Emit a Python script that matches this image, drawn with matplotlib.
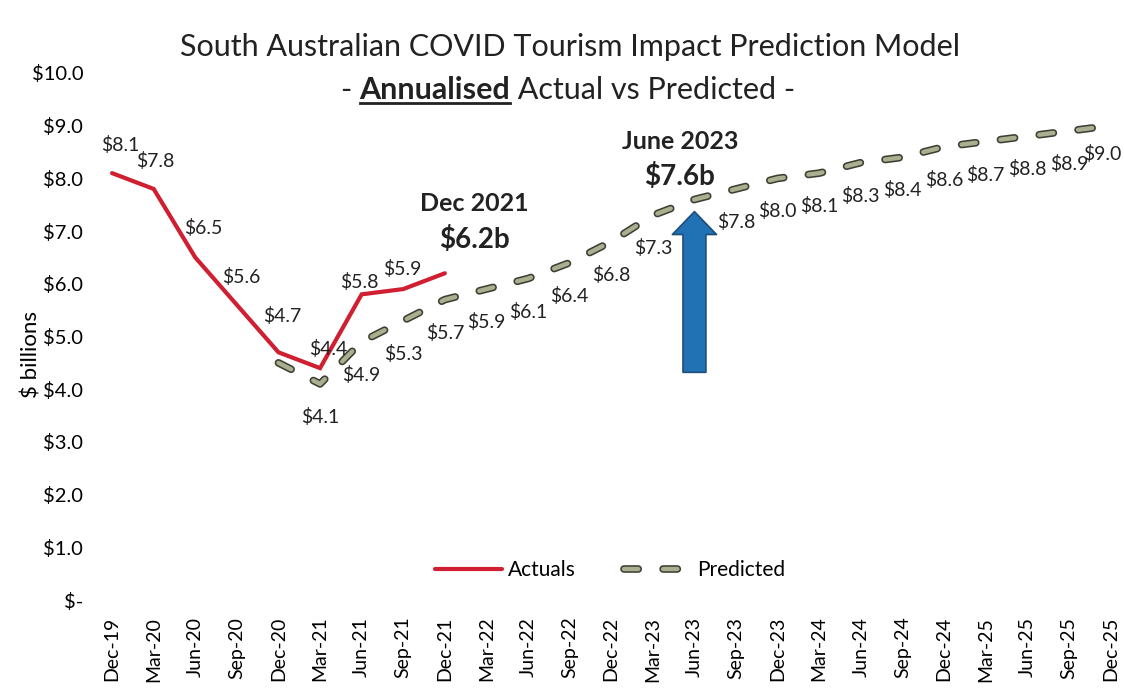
import matplotlib
matplotlib.use('Agg')
import matplotlib.pyplot as plt
import matplotlib.patheffects as pe
from matplotlib.lines import Line2D

plt.rcParams['font.family'] = ['Lato', 'DejaVu Sans']

trimestres = ['Dec-19', 'Mar-20', 'Jun-20', 'Sep-20', 'Dec-20', 'Mar-21', 'Jun-21',
              'Sep-21', 'Dec-21', 'Mar-22', 'Jun-22', 'Sep-22', 'Dec-22', 'Mar-23',
              'Jun-23', 'Sep-23', 'Dec-23', 'Mar-24', 'Jun-24', 'Sep-24', 'Dec-24',
              'Mar-25', 'Jun-25', 'Sep-25', 'Dec-25']

reales = [8.1, 7.8, 6.5, 5.6, 4.7, 4.4, 5.8, 5.9, 6.2]
# la prediccion empieza en Dec-20 (indice 4)
inicio_pred = 4
prediccion = [4.5, 4.1, 4.9, 5.3, 5.7, 5.9, 6.1, 6.4, 6.8, 7.3, 7.6,
              7.8, 8.0, 8.1, 8.3, 8.4, 8.6, 8.7, 8.8, 8.9, 9.0]

fig = plt.figure(figsize=(11.24, 6.92), dpi=100)
ax = fig.add_axes([100 / 1124, 92 / 692, 1020 / 1124, 527 / 692])

x_reales = list(range(len(reales)))
x_pred = list(range(inicio_pred, inicio_pred + len(prediccion)))

ax.plot(x_reales, reales, color='#d01f30', lw=3, label='Actuals',
        solid_capstyle='round', solid_joinstyle='miter', zorder=3)
lp, = ax.plot(x_pred, prediccion, color='#aab08f', lw=3.2, label='Predicted',
              linestyle=(0, (3.2, 5.6)), dash_capstyle='round', zorder=2)
lp.set_path_effects([pe.Stroke(linewidth=5.5, foreground='#3d3f33'), pe.Normal()])

# etiquetas de los valores reales (encima)
desp_reales = [(8, 28), (2, 28), (8, 29), (4, 28), (4, 36), (8, 19), (-2, 12), (-1, 20)]
for i, v in enumerate(reales[:-1]):
    dx, dy = desp_reales[i]
    ax.annotate(f'${v:.1f}', (x_reales[i], v), xytext=(dx, dy), textcoords='offset pixels',
                ha='center', va='center', fontsize=14, color='#222222')

# etiquetas de la prediccion (debajo), salvo Dec-20 y Jun-23
for x, v in zip(x_pred, prediccion):
    if trimestres[x] in ('Dec-20', 'Jun-23'):
        continue
    dx = -8 if x == len(trimestres) - 1 else 0
    dy = -28 if x == len(trimestres) - 1 else -33
    ax.annotate(f'${v:.1f}', (x, v), xytext=(dx, dy), textcoords='offset pixels',
                ha='center', va='center', fontsize=14, color='#222222')

ax.text(8.7, 7.52, 'Dec 2021', ha='center', va='center', fontsize=18, fontweight='bold', color='#222222')
ax.text(8.7, 6.85, '$6.2b', ha='center', va='center', fontsize=20, fontweight='bold', color='#222222')
ax.text(13.65, 8.7, 'June 2023', ha='center', va='center', fontsize=18, fontweight='bold', color='#222222')
ax.text(13.65, 8.03, '$7.6b', ha='center', va='center', fontsize=20, fontweight='bold', color='#222222')

ax.annotate('', xy=(14, 7.37), xytext=(14, 4.32),
            arrowprops=dict(arrowstyle='simple,head_width=1.06,head_length=0.55,tail_width=0.55',
                            fc='#2171b5', ec='#1f4e79', lw=1.2, mutation_scale=30,
                            shrinkA=0, shrinkB=0))

ax.set_xlim(-0.29, 24.23)
ax.set_ylim(0, 10)
ax.set_xticks(range(len(trimestres)))
ax.set_xticklabels(trimestres, rotation=90, fontsize=14)
ax.set_yticks([i for i in range(11)])
ax.set_yticklabels(['$-'] + [f'${i:.1f}' for i in range(1, 11)], fontsize=14.5)
ax.tick_params(length=0, pad=12)
for s in ax.spines.values():
    s.set_visible(False)
ax.set_ylabel('$ billions', fontsize=16)
ax.yaxis.set_label_coords(-0.057, 0.465)

ax.legend(loc='center', bbox_to_anchor=(0.5, (600 - 570) / 527), ncol=2, frameon=False,
          fontsize=15, handlelength=3.2, handletextpad=0.3, columnspacing=2.3)

# titulo en dos lineas, "Annualised" en negrita y subrayado
fig.text(570 / 1124, 1 - 47 / 692, 'South Australian COVID Tourism Impact Prediction Model',
         ha='center', va='center', fontsize=22, color='#222222')
partes = [fig.text(0, 1 - 90 / 692, '- ', fontsize=22, va='center', color='#222222'),
          fig.text(0, 1 - 90 / 692, 'Annualised', fontsize=22, va='center', fontweight='bold', color='#222222'),
          fig.text(0, 1 - 90 / 692, ' Actual vs Predicted -', fontsize=22, va='center', color='#222222')]
fig.canvas.draw()
r = fig.canvas.get_renderer()
anchos = [t.get_window_extent(r).width for t in partes]
x0 = 568 - sum(anchos) / 2
for t, w in zip(partes, anchos):
    t.set_x(x0 / 1124)
    x0 += w
bb = partes[1].get_window_extent(r)
fig.add_artist(Line2D([bb.x0 / 1124, bb.x1 / 1124], [(bb.y0 + 1) / 692] * 2,
                      color='#222222', lw=2, transform=fig.transFigure))

fig.savefig('out.png', dpi=100)
